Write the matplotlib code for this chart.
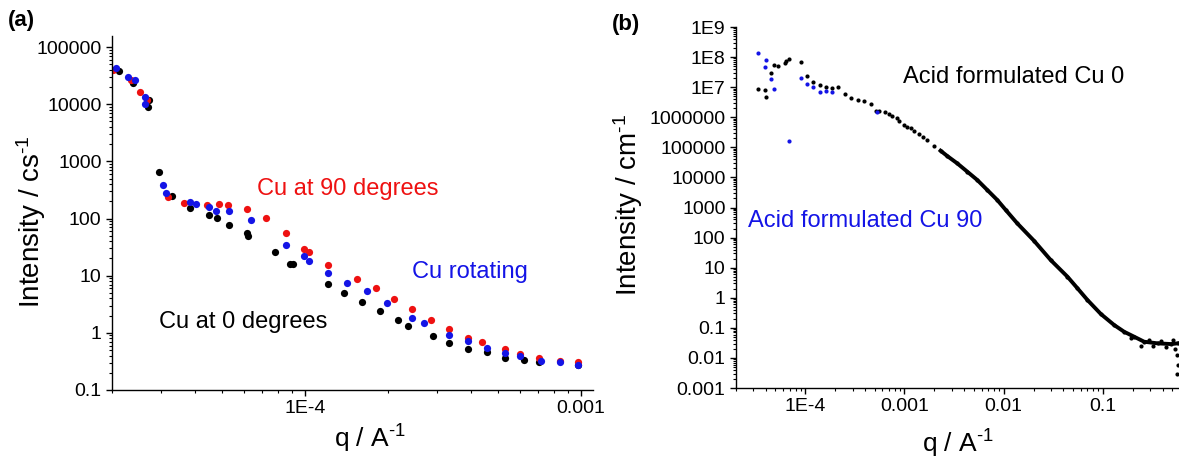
import matplotlib
matplotlib.use("Agg")
import matplotlib.pyplot as plt
from matplotlib.ticker import LogLocator, FixedLocator, NullFormatter

plt.rcParams['font.family'] = ['Liberation Sans', 'DejaVu Sans']
plt.rcParams['mathtext.fontset'] = 'custom'
plt.rcParams['mathtext.rm'] = 'Liberation Sans'
plt.rcParams['mathtext.default'] = 'regular'

# ---------------- Panel (a) data ----------------
q_cu0 = [2.12e-5, 2.38e-5, 2.72e-5, 2.70e-5, 2.96e-5, 3.30e-5, 3.83e-5, 4.51e-5, 4.80e-5,
         5.32e-5, 6.19e-5, 6.22e-5, 7.79e-5, 8.82e-5, 9.05e-5, 1.21e-4, 1.38e-4, 1.61e-4,
         1.87e-4, 2.17e-4, 2.36e-4, 2.91e-4, 3.32e-4, 3.91e-4, 4.55e-4, 5.31e-4, 6.22e-4,
         7.04e-4, 9.71e-4]
I_cu0 = [3.8e4, 2.34e4, 1.17e4, 8.86e3, 641, 243, 150, 113, 104,
         78.5, 56.8, 50.3, 26.4, 16.2, 16.2, 7.24, 5.03, 3.50,
         2.43, 1.69, 1.33, 0.886, 0.668, 0.524, 0.464, 0.364, 0.336,
         0.310, 0.275]

q_cu90 = [2.01e-5, 2.34e-5, 2.52e-5, 2.68e-5, 3.18e-5, 3.65e-5, 4.42e-5, 4.88e-5, 5.26e-5,
          6.19e-5, 7.22e-5, 8.57e-5, 9.92e-5, 1.03e-4, 1.21e-4, 1.54e-4, 1.81e-4, 2.10e-4,
          2.44e-4, 2.86e-4, 3.32e-4, 3.91e-4, 4.38e-4, 5.31e-4, 6.01e-4, 7.04e-4, 8.39e-4,
          9.71e-4]
I_cu90 = [3.95e4, 2.64e4, 1.62e4, 1.17e4, 234, 190, 169, 176, 169,
          144, 104, 56.8, 29.8, 26.4, 15.6, 8.86, 6.16, 3.95,
          2.64, 1.69, 1.17, 0.817, 0.695, 0.524, 0.428, 0.364, 0.323,
          0.310]

q_rot = [2.07e-5, 2.28e-5, 2.42e-5, 2.63e-5, 2.63e-5, 3.06e-5, 3.14e-5, 3.83e-5, 4.03e-5,
         4.51e-5, 4.76e-5, 5.32e-5, 6.37e-5, 8.57e-5, 9.92e-5, 1.03e-4, 1.21e-4, 1.42e-4,
         1.68e-4, 1.98e-4, 2.44e-4, 2.70e-4, 3.32e-4, 3.91e-4, 4.55e-4, 5.31e-4, 6.01e-4,
         7.16e-4, 8.39e-4, 9.71e-4]
I_rot = [4.28e4, 2.98e4, 2.64e4, 1.33e4, 1.0e4, 379, 275, 195, 183,
         156, 138, 133, 96, 35, 22.4, 18.3, 11.3, 7.54,
         5.46, 3.36, 1.83, 1.50, 0.92, 0.724, 0.546, 0.446, 0.395,
         0.323, 0.310, 0.275]

a_xticks = [1e-4, 1e-3]
a_xticklabels = ["1E-4", "0.001"]
a_yticks = [0.1, 1, 10, 100, 1000, 10000, 100000]
a_yticklabels = ["0.1", "1", "10", "100", "1000", "10000", "100000"]

# ---------------- Panel (b) data ----------------
q_b0_low = [3.37e-5, 3.88e-5, 3.97e-5, 4.54e-5, 4.83e-5, 5.30e-5, 6.18e-5, 6.32e-5, 6.84e-5,
            8.97e-5, 1.03e-4, 1.20e-4, 1.39e-4, 1.60e-4, 1.87e-4, 2.15e-4, 2.49e-4, 2.91e-4,
            3.38e-4, 3.90e-4, 4.56e-4, 5.13e-4, 5.59e-4, 6.32e-4, 6.94e-4, 7.51e-4, 8.44e-4,
            8.90e-4, 9.84e-4, 1.06e-3, 1.15e-3, 1.26e-3, 1.39e-3, 1.52e-3, 1.70e-3, 1.98e-3]
I_b0_low = [8.49e6, 8.05e6, 4.60e6, 2.96e7, 5.46e7, 5.17e7, 6.21e7, 7.24e7, 8.63e7,
            7.02e7, 2.40e7, 1.52e7, 1.18e7, 1.04e7, 9.17e6, 9.89e6, 5.93e6, 4.47e6,
            3.74e6, 3.47e6, 2.75e6, 1.61e6, 1.65e6, 1.53e6, 1.25e6, 1.10e6, 9.22e5,
            7.50e5, 5.52e5, 4.84e5, 4.29e5, 3.57e5, 2.77e5, 2.20e5, 1.75e5, 1.11e5]

q_b0_dense = [2.31e-3, 2.70e-3, 3.40e-3, 4.30e-3, 5.42e-3, 6.84e-3, 8.63e-3, 1.05e-2, 1.37e-2,
              2.02e-2, 2.98e-2, 4.40e-2, 5.55e-2, 7.00e-2, 9.55e-2, 0.130, 0.164, 0.207,
              0.261, 0.357, 0.486, 0.569]
I_b0_dense = [7.73e4, 5.14e4, 2.94e4, 1.55e4, 8.20e3, 3.81e3, 1.77e3, 824, 298,
              78.7, 17.9, 5.0, 2.06, 0.84, 0.288, 0.124, 0.074, 0.0506,
              0.0345, 0.0305, 0.0289, 0.0305]

q_b0_plateau = [0.192, 0.242, 0.292, 0.320, 0.385, 0.433, 0.509, 0.533, 0.56, 0.57, 0.56]
I_b0_plateau = [0.0458, 0.0248, 0.0393, 0.0248, 0.0364, 0.0230, 0.0393, 0.0197, 0.0125, 0.0058, 0.0029]

q_b90 = [3.37e-5, 3.97e-5, 3.94e-5, 4.54e-5, 4.79e-5, 6.84e-5, 8.97e-5, 1.03e-4, 1.20e-4,
         1.39e-4, 1.60e-4, 1.86e-4, 5.30e-4]
I_b90 = [1.34e8, 7.82e7, 4.79e7, 1.87e7, 8.49e6, 1.62e5, 2.06e7, 1.27e7, 9.89e6,
         7.06e6, 7.62e6, 7.06e6, 1.53e6]

b_xticks = [1e-4, 1e-3, 1e-2, 1e-1]
b_xticklabels = ["1E-4", "0.001", "0.01", "0.1"]
b_yticks = [1e-3, 1e-2, 1e-1, 1, 10, 100, 1e3, 1e4, 1e5, 1e6, 1e7, 1e8, 1e9]
b_yticklabels = ["0.001", "0.01", "0.1", "1", "10", "100", "1000", "10000", "100000",
                 "1000000", "1E7", "1E8", "1E9"]

RED = '#ee1111'
BLUE = '#1414e6'
W, H = 1179, 461

fig = plt.figure(figsize=(W / 100, H / 100), dpi=100)


def style_axes(ax, tick_fs):
    ax.spines['top'].set_visible(False)
    ax.spines['right'].set_visible(False)
    for s in ('left', 'bottom'):
        ax.spines[s].set_linewidth(1.0)
    ax.tick_params(which='major', direction='out', length=4.5, width=1.0, labelsize=tick_fs, pad=3)
    ax.tick_params(which='minor', direction='out', length=2.5, width=0.8)
    ax.xaxis.set_minor_locator(LogLocator(base=10, subs=range(2, 10), numticks=50))
    ax.yaxis.set_minor_locator(LogLocator(base=10, subs=range(2, 10), numticks=50))
    ax.xaxis.set_minor_formatter(NullFormatter())
    ax.yaxis.set_minor_formatter(NullFormatter())


# ---------------- Panel (a) ----------------
axa = fig.add_axes([112 / W, 1 - 390 / H, (593 - 112) / W, (390 - 36) / H])
axa.set_xscale('log')
axa.set_yscale('log')
ms_a = 5.2
axa.plot(q_cu0, I_cu0, 'o', color='black', ms=ms_a, mew=0)
axa.plot(q_cu90, I_cu90, 'o', color=RED, ms=ms_a, mew=0)
axa.plot(q_rot, I_rot, 'o', color=BLUE, ms=ms_a, mew=0)
axa.set_xlim(2e-5, 1.105e-3)
axa.set_ylim(0.1, 1.56e5)
style_axes(axa, 14)
axa.xaxis.set_major_locator(FixedLocator(a_xticks))
axa.set_xticklabels(a_xticklabels)
axa.yaxis.set_major_locator(FixedLocator(a_yticks))
axa.set_yticklabels(a_yticklabels)

# ---------------- Panel (b) ----------------
axb = fig.add_axes([736 / W, 1 - 388 / H, (W - 736) / W, (388 - 27) / H])
axb.set_xscale('log')
axb.set_yscale('log')
ms_b = 3.0
axb.plot(q_b0_low, I_b0_low, 'o', color='black', ms=ms_b, mew=0)
axb.plot(q_b0_dense, I_b0_dense, '-o', color='black', lw=2.8, ms=ms_b, mew=0)
axb.plot(q_b0_plateau, I_b0_plateau, 'o', color='black', ms=ms_b, mew=0)
axb.plot(q_b90, I_b90, 'o', color=BLUE, ms=ms_b, mew=0)
axb.set_xlim(2e-5, 0.586)
axb.set_ylim(1e-3, 1e9)
style_axes(axb, 14)
axb.xaxis.set_major_locator(FixedLocator(b_xticks))
axb.set_xticklabels(b_xticklabels)
axb.yaxis.set_major_locator(FixedLocator(b_yticks))
axb.set_yticklabels(b_yticklabels)
for a in (axa, axb):
    for t in a.get_xticklabels():
        t.set_fontsize(14)

# ---------------- Labels ----------------
def fx(px):
    return px / W


def fy(py):
    return 1 - py / H


SUP = r"$^{\text{-}1}$"
fig.text(fx(31), fy(222), "Intensity / cs" + SUP, rotation=90, ha='center', va='center', fontsize=20)
fig.text(fx(628), fy(205), "Intensity / cm" + SUP, rotation=90, ha='center', va='center', fontsize=20)
fig.text(fx(370), fy(448), "q / A" + SUP, ha='center', va='baseline', fontsize=19)
fig.text(fx(958), fy(453), "q / A" + SUP, ha='center', va='baseline', fontsize=19)

fig.text(fx(8), fy(26), "(a)", fontsize=16, fontweight='bold', ha='left', va='baseline')
fig.text(fx(612), fy(30), "(b)", fontsize=16, fontweight='bold', ha='left', va='baseline')

fig.text(fx(257), fy(195), "Cu at 90 degrees", color=RED, fontsize=17, ha='left', va='baseline')
fig.text(fx(412), fy(278), "Cu rotating", color=BLUE, fontsize=17, ha='left', va='baseline')
fig.text(fx(159), fy(328), "Cu at 0 degrees", color='black', fontsize=17, ha='left', va='baseline')
fig.text(fx(903), fy(83), "Acid formulated Cu 0", color='black', fontsize=17, ha='left', va='baseline')
fig.text(fx(748), fy(227), "Acid formulated Cu 90", color=BLUE, fontsize=17, ha='left', va='baseline')

fig.savefig("out.png", dpi=100)
